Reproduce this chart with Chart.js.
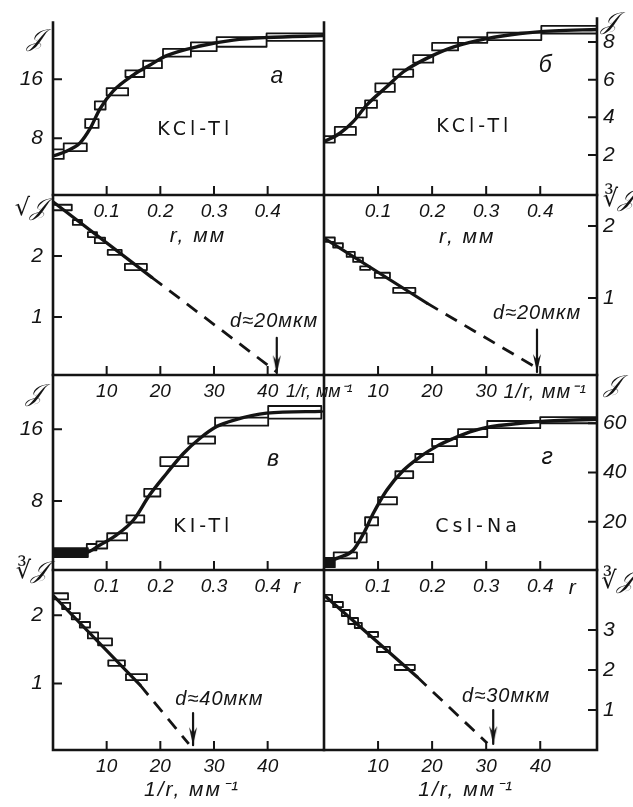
<!DOCTYPE html>
<html>
<head>
<meta charset="utf-8">
<script src="https://cdn.jsdelivr.net/npm/chart.js@4.4.1/dist/chart.umd.min.js"></script>
<style>
  html, body { margin: 0; background: #fff; }
  #fig { position: relative; width: 633px; height: 807px; }
  #fig canvas { position: absolute; left: 0; top: 0; }
</style>
</head>
<body>
<div id="fig">
  <canvas id="pA" width="633" height="807"></canvas>
  <canvas id="pB" width="633" height="807"></canvas>
  <canvas id="pA2" width="633" height="807"></canvas>
  <canvas id="pB2" width="633" height="807"></canvas>
  <canvas id="pV" width="633" height="807"></canvas>
  <canvas id="pG" width="633" height="807"></canvas>
  <canvas id="pV2" width="633" height="807"></canvas>
  <canvas id="pG2" width="633" height="807"></canvas>
</div>
<script>
// tick values
const rTicks = [0.1, 0.2, 0.3, 0.4];
const invTicks = [10, 20, 30, 40];
const invLabelsShort = [10, 20, 30];   // panel б: "40" gives way to the axis name
const aTicksJ = [8, 16];
const bTicksJ = [2, 4, 6, 8];
const vTicksJ = [8, 16];
const gTicksJ = [20, 40, 60];
const aTicksRoot = [1, 2];
const bTicksRoot = [1, 2];
const vTicksRoot = [1, 2];
const gTicksRoot = [1, 2, 3];

// а: KCl-Tl, J(r)
const aCurveR = [0, 0.025, 0.05, 0.069, 0.0875, 0.112, 0.15, 0.18, 0.212, 0.274, 0.336, 0.398, 0.505];
const aCurveJ = [5.6, 6.25, 7.35, 9.3, 12.0, 14.4, 16.6, 17.9, 19.2, 20.5, 21.3, 21.65, 21.9];
// boxes: [r from, r to, J low, J high]
const aBoxes = [
  [0, 0.02, 5.2, 6.5], [0.02, 0.063, 6.25, 7.3], [0.06, 0.085, 9.4, 10.6],
  [0.078, 0.098, 11.9, 13.0], [0.1, 0.14, 13.8, 14.8], [0.135, 0.17, 16.3, 17.2],
  [0.168, 0.203, 17.5, 18.5], [0.205, 0.257, 19.05, 20.1], [0.257, 0.305, 19.8, 21.0],
  [0.305, 0.398, 20.4, 21.7], [0.398, 0.505, 21.2, 22.2]
];
// а: sqrt(J) vs 1/r
const aFitU = [0, 18.4];
const aFitV = [2.89, 1.65];
const aDashU = [18.4, 41.7];
const aDashV = [1.65, 0.1];
const aRootBoxes = [
  [0, 3.5, 2.75, 2.84], [3.7, 5.4, 2.51, 2.59], [6.5, 8.2, 2.31, 2.39],
  [7.8, 9.7, 2.21, 2.3], [10.2, 12.8, 2.02, 2.1], [13.4, 17.5, 1.77, 1.87]
];
const aArrow = [41.7, 0.66, 0.08];

// б: KCl-Tl, J(r)
const bCurveR = [0, 0.03, 0.054, 0.079, 0.116, 0.147, 0.19, 0.24, 0.301, 0.363, 0.425, 0.505];
const bCurveJ = [2.7, 3.17, 3.77, 4.65, 5.62, 6.42, 7.13, 7.74, 8.18, 8.45, 8.59, 8.66];
const bBoxes = [
  [0, 0.02, 2.66, 3.0], [0.02, 0.059, 3.07, 3.49], [0.059, 0.079, 4.0, 4.5],
  [0.076, 0.098, 4.5, 4.9], [0.095, 0.131, 5.35, 5.8], [0.128, 0.165, 6.15, 6.55],
  [0.165, 0.202, 6.9, 7.3], [0.2, 0.248, 7.55, 7.95], [0.248, 0.302, 7.95, 8.25],
  [0.302, 0.402, 8.1, 8.5], [0.402, 0.505, 8.45, 8.85]
];
// б: cube root of J vs 1/r
const bFitU = [0, 19];
const bFitV = [1.83, 0.93];
const bDashU = [19, 40];
const bDashV = [0.93, 0];
const bRootBoxes = [
  [0, 2, 1.78, 1.84], [1.7, 3.5, 1.7, 1.76], [4.2, 5.7, 1.57, 1.64], [5.4, 7.2, 1.5, 1.56],
  [6.7, 8.5, 1.39, 1.44], [9.4, 12.2, 1.28, 1.35], [12.8, 16.9, 1.07, 1.14]
];
const bArrow = [39.4, 0.56, -0.03];

// в: KI-Tl, J(r)
const vCurveR = [0, 0.06, 0.0875, 0.118, 0.15, 0.18, 0.212, 0.243, 0.274, 0.305, 0.336, 0.398, 0.5];
const vCurveJ = [2.16, 2.23, 3.09, 4.2, 5.88, 8.67, 11.1, 13.3, 15.0, 16.3, 17.0, 17.8, 18.0];
const vBoxes = [
  [0.063, 0.081, 2.5, 3.2], [0.081, 0.101, 2.7, 3.5], [0.101, 0.138, 3.6, 4.4],
  [0.137, 0.17, 5.6, 6.4], [0.17, 0.2, 8.5, 9.35], [0.2, 0.252, 11.9, 12.9],
  [0.252, 0.302, 14.4, 15.2], [0.302, 0.401, 16.4, 17.3], [0.401, 0.5, 17.2, 18.6]
];
const vSolidBox = [0, 0.065, 1.75, 2.75];
// в: cube root of J vs 1/r
const vFitU = [0, 16.2];
const vFitV = [2.29, 0.98];
const vDashU = [16.2, 25.3];
const vDashV = [0.98, 0.12];
const vRootBoxes = [
  [0, 2.8, 2.23, 2.32], [1.7, 3.2, 2.09, 2.18], [3.5, 5.0, 1.94, 2.03], [5.0, 6.9, 1.82, 1.9],
  [6.5, 8.4, 1.66, 1.75], [8.4, 11, 1.56, 1.66], [10.3, 13.4, 1.26, 1.34], [13.6, 17.5, 1.05, 1.14]
];
const vArrow = [26.1, 0.57, 0.1];

// г: CsI-Na, J(r)
const gCurveR = [0, 0.03, 0.054, 0.073, 0.091, 0.116, 0.147, 0.178, 0.209, 0.239, 0.27, 0.301, 0.363, 0.425, 0.505];
const gCurveJ = [3.6, 5.6, 8.4, 15.1, 23.3, 32.8, 40.9, 46.4, 50.7, 53.8, 56.5, 58.3, 60.0, 61.0, 61.6];
const gBoxes = [
  [0.018, 0.061, 5.1, 7.5], [0.057, 0.079, 11.6, 15.3], [0.076, 0.1, 18.5, 21.8],
  [0.1, 0.135, 27, 30], [0.132, 0.165, 37.7, 40.5], [0.169, 0.202, 44.2, 47.5],
  [0.2, 0.246, 50.7, 53.6], [0.248, 0.302, 54.4, 57.6], [0.302, 0.4, 58, 60.9],
  [0.4, 0.505, 60, 62.5]
];
const gSolidBox = [0, 0.02, 1.5, 5.3];
// г: cube root of J vs 1/r
const gFitU = [0, 17.2];
const gFitV = [3.875, 1.83];
const gDashU = [17.2, 30.2];
const gDashV = [1.83, 0.17];
const gRootBoxes = [
  [0, 1.5, 3.72, 3.88], [1.7, 3.5, 3.57, 3.7], [3.3, 4.8, 3.35, 3.5], [4.5, 6.3, 3.15, 3.3],
  [5.7, 7.0, 3.05, 3.18], [8.2, 10, 2.83, 2.95], [9.8, 12.2, 2.45, 2.58], [13.1, 16.8, 2.0, 2.13]
];
const gArrow = [31.3, 1.0, 0.15];

const W = 633, H = 807;
const ink = '#141414';
const rows = [18, 195, 375, 570, 750];
const cols = [53, 324, 597];
const xAxisH = 30;               // room kept for x tick labels
const yAxisW = [50, 34];         // room for y tick labels, left / right panels

Chart.defaults.animation = false;
Chart.defaults.color = ink;

const tickFont = { family: '"Liberation Sans", Arial, sans-serif', style: 'italic', size: 19 };
const yTickFont = { family: '"Liberation Sans", Arial, sans-serif', style: 'italic', size: 21 };
const noteFonts = {
  script: { font: 'italic 24px "DejaVu Serif", "DejaVu Sans", serif' },
  letter: { font: 'italic 23px "Liberation Sans", sans-serif' },
  name: { font: '19px "DejaVu Sans", sans-serif', spacing: '4px' },
  axis: { font: 'italic 21px "Liberation Sans", sans-serif', spacing: '2px' },
  cut: { font: 'italic 20px "Liberation Sans", sans-serif', spacing: '1px' },
  tight: { font: 'italic 18px "Liberation Sans", sans-serif' }
};

// narrow arrowhead, tip in the centre of the image
const arrowHead = document.createElement('canvas');
arrowHead.width = 10; arrowHead.height = 40;
const ac = arrowHead.getContext('2d');
ac.fillStyle = ink;
ac.beginPath(); ac.moveTo(5, 20); ac.lineTo(1, 2); ac.lineTo(5, 8); ac.lineTo(9, 2); ac.closePath(); ac.fill();

const line = extra => Object.assign({
  borderColor: ink, backgroundColor: ink, pointRadius: 0, fill: false,
  borderCapStyle: 'round', borderJoinStyle: 'round'
}, extra);
const xy = (xs, ys) => xs.map((x, i) => ({ x, y: ys[i] }));
const rectPts = ([x0, x1, lo, hi]) => [
  { x: x0, y: lo }, { x: x1, y: lo }, { x: x1, y: hi }, { x: x0, y: hi }, { x: x0, y: lo }
];
const boxSet = list => line({ data: list.flatMap(b => [...rectPts(b), { x: b[0], y: null }]), borderWidth: 1.8 });
const solidSet = b => line({ data: rectPts(b), borderWidth: 1.8, fill: 'shape' });
const curveSet = (xs, ys) => line({ data: xy(xs, ys), borderWidth: 3.4, cubicInterpolationMode: 'monotone' });
const fitSet = (xs, ys) => line({ data: xy(xs, ys), borderWidth: 3.2 });
const dashSet = (xs, ys) => line({ data: xy(xs, ys), borderWidth: 2.8, borderDash: [13, 9], borderCapStyle: 'butt' });
const arrowSet = ([u, top, tip]) => line({
  data: [{ x: u, y: top }, { x: u, y: tip }], borderWidth: 2.2, pointRadius: [0, 5], pointStyle: arrowHead
});

const fmtR = v => v.toFixed(1);
const fmtU = v => String(v);

const panels = [
  { id: 'pA', col: 0, row: 0, x: [0, 0.505], y: [0.32, 23.67], xTicks: rTicks, yTicks: aTicksJ, xFmt: fmtR,
    datasets: [boxSet(aBoxes), curveSet(aCurveR, aCurveJ)],
    notes: [['\u{1D4A5}', -0.033, 21.3, 'script'], ['а', 0.417, 16.4, 'letter'],
            ['KCl-Tl', 0.265, 9.15, 'name'], ['r, мм', 0.27, -5.2, 'axis']] },
  { id: 'pB', col: 1, row: 0, x: [0, 0.505], y: [-0.12, 9.24], xTicks: rTicks, yTicks: bTicksJ, xFmt: fmtR,
    datasets: [boxSet(bBoxes), curveSet(bCurveR, bCurveJ)],
    notes: [['\u{1D4A5}', 0.528, 9.03, 'script'], ['б', 0.409, 6.76, 'letter'],
            ['KCl-Tl', 0.278, 3.48, 'name'], ['r, мм', 0.265, -2.34, 'axis']] },
  { id: 'pA2', col: 0, row: 1, x: [0, 50.5], y: [0.05, 3.0], xTicks: invTicks, yTicks: aTicksRoot, xFmt: fmtU,
    datasets: [boxSet(aRootBoxes), fitSet(aFitU, aFitV), dashSet(aDashU, aDashV), arrowSet(aArrow)],
    notes: [['√\u{1D4A5}', -4.1, 2.77, 'script'], ['d≈20мкм', 41.2, 0.92, 'cut'],
            ['1/r, мм⁻¹', 43.4, -0.23, 'tight', 'left']] },
  { id: 'pB2', col: 1, row: 1, x: [0, 50.5], y: [-0.07, 2.43], xTicks: invTicks, xLabels: invLabelsShort,
    yTicks: bTicksRoot, xFmt: fmtU,
    datasets: [boxSet(bRootBoxes), fitSet(bFitU, bFitV), dashSet(bDashU, bDashV), arrowSet(bArrow)],
    notes: [['∛\u{1D4A5}', 54.6, 2.36, 'script'], ['d≈20мкм', 39.4, 0.78, 'cut'],
            ['1/r, мм⁻¹', 33.2, -0.31, 'cut', 'left']] },
  { id: 'pV', col: 0, row: 2, x: [0, 0.505], y: [0.3, 22.06], xTicks: rTicks, yTicks: vTicksJ, xFmt: fmtR,
    datasets: [solidSet(vSolidBox), boxSet(vBoxes), curveSet(vCurveR, vCurveJ)],
    notes: [['\u{1D4A5}', -0.034, 19.8, 'script'], ['в', 0.41, 12.6, 'letter'],
            ['KI-Tl', 0.28, 5.1, 'name'], ['r', 0.456, -1.6, 'axis']] },
  { id: 'pG', col: 1, row: 2, x: [0, 0.505], y: [0.37, 79.6], xTicks: rTicks, yTicks: gTicksJ, xFmt: fmtR,
    datasets: [solidSet(gSolidBox), boxSet(gBoxes), curveSet(gCurveR, gCurveJ)],
    notes: [['\u{1D4A5}', 0.533, 75.2, 'script'], ['г', 0.413, 45.9, 'letter'],
            ['CsI-Na', 0.285, 17.8, 'name'], ['r', 0.461, -6.9, 'axis']] },
  { id: 'pV2', col: 0, row: 3, x: [0, 50.5], y: [0.03, 2.66], xTicks: invTicks, yTicks: vTicksRoot, xFmt: fmtU,
    datasets: [boxSet(vRootBoxes), fitSet(vFitU, vFitV), dashSet(vDashU, vDashV), arrowSet(vArrow)],
    notes: [['∛\u{1D4A5}', -3.9, 2.63, 'script'], ['d≈40мкм', 31.0, 0.77, 'cut'],
            ['1/r, мм⁻¹', 25.9, -0.55, 'axis']] },
  { id: 'pG2', col: 1, row: 3, x: [0, 50.5], y: [0, 4.5], xTicks: invTicks, yTicks: gTicksRoot, xFmt: fmtU,
    datasets: [boxSet(gRootBoxes), fitSet(gFitU, gFitV), dashSet(gDashU, gDashV), arrowSet(gArrow)],
    notes: [['∛\u{1D4A5}', 54.3, 4.2, 'script'], ['d≈30мкм', 33.7, 1.33, 'cut'],
            ['1/r, мм⁻¹', 26.3, -1.0, 'axis']] }
];

// frame lines, inward tick marks and text labels
function makeDecor(p) {
  return {
    id: 'decor' + p.id,
    afterDraw(chart) {
      const { ctx, chartArea: a, scales: { x, y } } = chart;
      ctx.save();
      ctx.strokeStyle = ink;
      ctx.fillStyle = ink;
      ctx.lineWidth = 2.6;
      ctx.lineCap = 'square';
      ctx.beginPath();
      if (p.col === 0) { ctx.moveTo(a.left, a.top); ctx.lineTo(a.left, a.bottom); }
      ctx.moveTo(a.left, a.bottom); ctx.lineTo(a.right, a.bottom);
      ctx.moveTo(a.right, a.top); ctx.lineTo(a.right, a.bottom);
      ctx.stroke();

      ctx.lineWidth = 2;
      ctx.lineCap = 'butt';
      ctx.beginPath();
      p.xTicks.forEach(v => {
        const px = x.getPixelForValue(v);
        ctx.moveTo(px, a.bottom); ctx.lineTo(px, a.bottom - 9);
      });
      const edge = p.col === 0 ? a.left : a.right;
      const dir = p.col === 0 ? 1 : -1;
      p.yTicks.forEach(v => {
        const py = y.getPixelForValue(v);
        ctx.moveTo(edge, py); ctx.lineTo(edge + dir * 9, py);
      });
      ctx.stroke();

      ctx.textBaseline = 'middle';
      p.notes.forEach(([text, xv, yv, kind, align]) => {
        const f = noteFonts[kind];
        ctx.font = f.font;
        ctx.letterSpacing = f.spacing || '0px';
        ctx.textAlign = align || 'center';
        ctx.fillText(text, x.getPixelForValue(xv), y.getPixelForValue(yv));
      });
      ctx.restore();
    }
  };
}

panels.forEach(p => {
  const left = cols[p.col], right = cols[p.col + 1];
  const top = rows[p.row], bottom = rows[p.row + 1];
  const yw = yAxisW[p.col];
  const xLabels = p.xLabels || p.xTicks;
  new Chart(document.getElementById(p.id), {
    type: 'line',
    data: { datasets: p.datasets },
    options: {
      responsive: false,
      events: [],
      layout: {
        padding: {
          left: p.col ? left : left - yw,
          right: p.col ? W - right - yw : W - right,
          top: top,
          bottom: H - bottom - xAxisH
        }
      },
      plugins: { legend: { display: false }, tooltip: { enabled: false }, colors: { enabled: false } },
      scales: {
        x: {
          type: 'linear', min: p.x[0], max: p.x[1],
          grid: { display: false, drawTicks: false }, border: { display: false },
          ticks: { font: tickFont, color: ink, padding: 5, maxRotation: 0, autoSkip: false, callback: v => p.xFmt(v) },
          afterBuildTicks: s => { s.ticks = xLabels.map(value => ({ value })); },
          afterFit: s => { s.height = xAxisH; }
        },
        y: {
          type: 'linear', position: p.col ? 'right' : 'left', min: p.y[0], max: p.y[1],
          grid: { display: false, drawTicks: false }, border: { display: false },
          ticks: { font: yTickFont, color: ink, padding: p.col ? 6 : 10, callback: v => String(v) },
          afterBuildTicks: s => { s.ticks = p.yTicks.map(value => ({ value })); },
          afterFit: s => { s.width = yw; }
        }
      }
    },
    plugins: [makeDecor(p)]
  });
});
</script>
</body>
</html>
